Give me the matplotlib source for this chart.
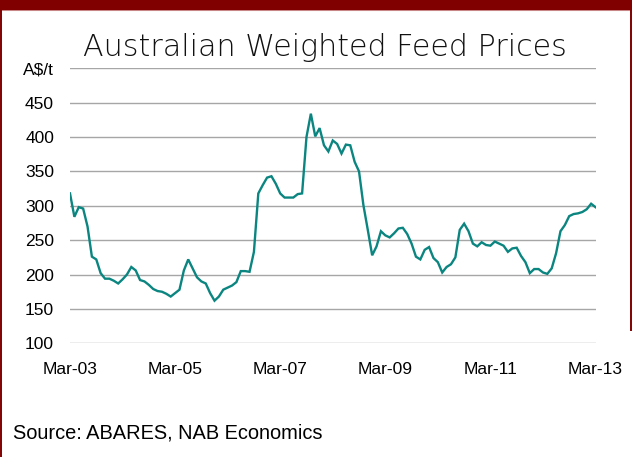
import matplotlib
matplotlib.use("Agg")
import matplotlib.pyplot as plt
import numpy as np
from matplotlib.patches import Rectangle
from matplotlib.lines import Line2D

# Monthly Australian weighted feed prices (A$/t), Mar-03 .. Mar-13
prices = [
    318, 284, 298, 296, 270, 226, 222, 202, 194, 194, 191, 187,
    193, 200, 211, 206, 192, 190, 185, 179, 176, 175, 172, 168,
    173, 178, 206, 222, 209, 196, 190, 187, 173, 162, 168, 178,
    181, 184, 189, 205, 205, 204, 233, 318, 330, 341, 343, 332,
    318, 312, 312, 312, 317, 318, 400, 434, 401, 413, 388, 379,
    395, 390, 376, 389, 388, 364, 350, 301, 265, 228, 241, 263,
    257, 254, 260, 267, 268, 259, 245, 226, 222, 236, 240, 224,
    218, 203, 211, 215, 225, 265, 274, 263, 245, 241, 247, 243,
    242, 248, 245, 242, 233, 238, 239, 227, 218, 202, 208, 208,
    203, 201, 209, 231, 263, 272, 285, 288, 289, 291, 295, 303,
    298,
]
tick_months = [0, 24, 48, 72, 96, 120]
tick_labels = ["Mar-03", "Mar-05", "Mar-07", "Mar-09", "Mar-11", "Mar-13"]
y_ticks = [100, 150, 200, 250, 300, 350, 400, 450, 500]
y_labels = ["100", "150", "200", "250", "300", "350", "400", "450", "A$/t"]

W, H = 632, 457
fig = plt.figure(figsize=(W / 100, H / 100), dpi=100)
fig.patch.set_facecolor("white")

ax = fig.add_axes([70 / W, 1 - 343.3 / H, (595.5 - 70) / W, (343.3 - 68.3) / H])
x = np.arange(len(prices))
ax.plot(x, prices, color="#0b8580", lw=1.7, solid_joinstyle="miter", zorder=3)
ax.set_xlim(0, len(prices) - 1)
ax.set_ylim(100, 500)
ax.set_yticks(y_ticks)
ax.set_yticklabels(y_labels)
ax.set_xticks(tick_months)
ax.set_xticklabels(tick_labels)
ax.grid(axis="y", color="#a6a6a6", lw=1.0)
ax.set_axisbelow(True)
for s in ax.spines.values():
    s.set_visible(False)
ax.tick_params(axis="both", length=0, labelsize=12.5, colors="black")
ax.tick_params(axis="y", pad=11.5)
ax.tick_params(axis="x", pad=13.3)
for lab in ax.get_xticklabels() + ax.get_yticklabels():
    lab.set_fontfamily("Liberation Sans")

fig.text(324.5 / W, 1 - 48 / H, "Australian Weighted Feed Prices",
         ha="center", va="center", fontsize=21.7, family="DejaVu Sans",
         color="#111111", fontweight="light")
fig.text(13 / W, 1 - 433 / H, "Source: ABARES, NAB Economics",
         ha="left", va="center", fontsize=14.4, family="Liberation Sans",
         color="black")

# frame decorations
dark = "#800000"
fig.patches.append(Rectangle((0, 1 - 9.3 / H), 1, 9.3 / H, transform=fig.transFigure,
                             color=dark, zorder=10))
fig.lines.append(Line2D([0, 1], [1 - 10 / H, 1 - 10 / H], transform=fig.transFigure,
                        color="#dca7a7", lw=0.8, zorder=10))
fig.lines.append(Line2D([0.9 / W, 0.9 / W], [0, 1], transform=fig.transFigure,
                        color=dark, lw=1.4, zorder=10))
fig.lines.append(Line2D([(W - 1) / W, (W - 1) / W], [1 - 330 / H, 1], transform=fig.transFigure,
                        color=dark, lw=1.4, zorder=10))

fig.savefig("out.png", dpi=100, facecolor="white")
